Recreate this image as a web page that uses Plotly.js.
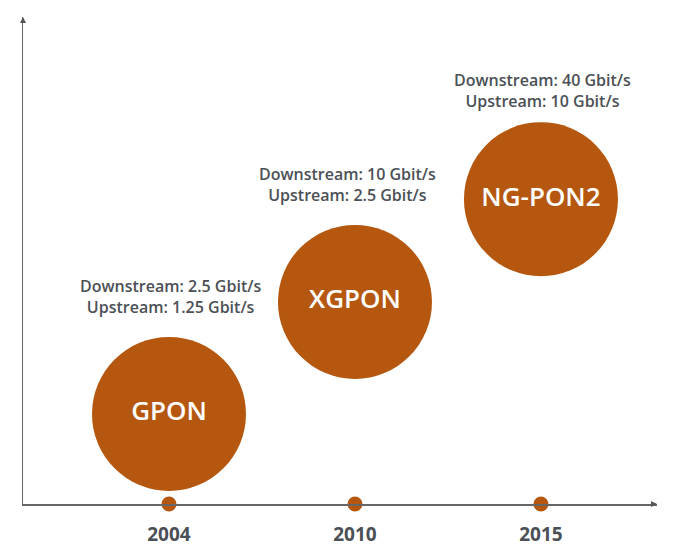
<!DOCTYPE html>
<html>
<head>
<meta charset="utf-8">
<script src="https://cdn.plot.ly/plotly-3.0.1.min.js"></script>
<style>html,body{margin:0;padding:0;background:#fff;}#chart{width:680px;height:558px;}</style>
</head>
<body>
<div id="chart"></div>
<script>
// Data
var years = ['2004', '2010', '2015'];
var technologies = ['GPON', 'XGPON', 'NG-PON2'];
var generationLevel = [18.5, 41.5, 62.6];   // vertical position of each bubble (relative level)
var downstream = ['2.5 Gbit/s', '10 Gbit/s', '40 Gbit/s'];
var upstream = ['1.25 Gbit/s', '2.5 Gbit/s', '10 Gbit/s'];
var specLevel = [42.7, 65.7, 85.0];

var idx = years.map(function (_, i) { return i; });
var orange = '#b5570f';
var grey = '#4b5056';
var font = 'Open Sans, sans-serif';

var traces = [
  {
    type: 'scatter', mode: 'markers+text', x: idx, y: generationLevel,
    text: technologies, textposition: 'middle center',
    textfont: {family: font, size: 26, color: '#ffffff', weight: 600},
    marker: {size: 154, color: orange, line: {width: 0}},
    hoverinfo: 'skip', cliponaxis: false
  },
  {
    type: 'scatter', mode: 'markers', x: idx, y: idx.map(function () { return 0; }),
    marker: {size: 15, color: orange},
    hoverinfo: 'skip', cliponaxis: false
  }
];

var annotations = idx.map(function (i) {
  return {
    x: i, y: specLevel[i], xref: 'x', yref: 'y', showarrow: false,
    xshift: i === 1 ? -7 : 2,
    text: 'Downstream: ' + downstream[i] + '<br>Upstream: ' + upstream[i],
    font: {family: font, size: 16, color: grey, weight: 600}, align: 'center'
  };
});
// arrowheads on axes
annotations.push({x: 0, y: 1, xref: 'paper', yref: 'paper', ax: 0, ay: 6, showarrow: true,
  arrowhead: 2, arrowsize: 0.8, arrowwidth: 1.5, arrowcolor: '#555', text: ''});
annotations.push({x: 1, y: 0, xref: 'paper', yref: 'paper', ax: -6, ay: 0, showarrow: true,
  arrowhead: 2, arrowsize: 0.8, arrowwidth: 1.5, arrowcolor: '#555', text: ''});

var layout = {
  width: 680, height: 558,
  margin: {l: 23, r: 23, t: 17, b: 54},
  paper_bgcolor: '#ffffff', plot_bgcolor: '#ffffff',
  showlegend: false,
  xaxis: {
    range: [-0.785, 2.624], tickvals: idx, ticktext: years,
    showgrid: false, zeroline: false, showline: true, linecolor: '#666', linewidth: 1.5,
    ticks: '', tickfont: {family: font, size: 19, color: grey, weight: 700}, ticklabelstandoff: 13,
    fixedrange: true
  },
  yaxis: {
    range: [0, 100], showgrid: false, zeroline: false, showline: true, linecolor: '#666', linewidth: 1.5,
    showticklabels: false, ticks: '', fixedrange: true
  },
  annotations: annotations
};

Plotly.newPlot('chart', traces, layout, {displayModeBar: false, staticPlot: true});
</script>
</body>
</html>
